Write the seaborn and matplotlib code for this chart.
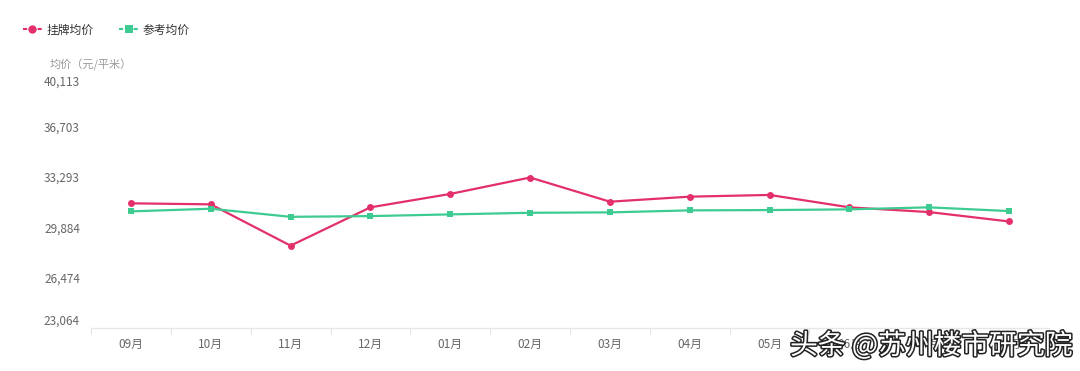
import pandas as pd
import numpy as np
import seaborn as sns
import matplotlib.pyplot as plt
import matplotlib.patheffects as pe
from matplotlib.lines import Line2D

months = ["09月", "10月", "11月", "12月", "01月", "02月", "03月", "04月", "05月", "06月", "07月", "08月"]
listing_price = [31499, 31430, 28635, 31227, 32134, 33245, 31609, 31950, 32066, 31227, 30906, 30272]
reference_price = [30954, 31132, 30586, 30634, 30750, 30859, 30886, 31022, 31043, 31090, 31227, 30975]
y_ticks = [23064, 26474, 29884, 33293, 36703, 40113]
series_names = ["挂牌均价", "参考均价"]

RED = "#e3306a"
GREEN = "#3dcb92"

df = pd.DataFrame({
    "month": months * 2,
    "price": listing_price + reference_price,
    "series": [series_names[0]] * len(months) + [series_names[1]] * len(months),
})

sns.set_theme(style="white")
plt.rcParams["font.family"] = ["Noto Sans CJK SC", "DejaVu Sans"]

fig = plt.figure(figsize=(10.8, 3.71), dpi=100)
ax = fig.add_axes([91 / 1080, 1 - 328 / 371, 958 / 1080, 252 / 371])

sns.lineplot(
    data=df, x="month", y="price", hue="series", style="series",
    palette=[RED, GREEN], markers=["o", "s"], dashes=False,
    markersize=5, markeredgewidth=0, linewidth=1.6, sort=False,
    legend=False, ax=ax,
)

ax.set_xlim(-0.5, len(months) - 0.5)
ax.set_ylim(y_ticks[0], y_ticks[-1])
ax.set_xlabel("")
ax.set_ylabel("")

# y axis: labels only, no line
ax.set_yticks(y_ticks)
ax.set_yticklabels([f"{v:,}" for v in y_ticks])
ax.tick_params(axis="y", length=0, pad=8, labelsize=8.5, labelcolor="#666666")
ylabels = ax.get_yticklabels()
ylabels[0].set_va("bottom")
ylabels[-1].set_va("top")

# x axis: labels at centers, small tick marks at the band boundaries
ax.set_xticks(range(len(months)))
ax.set_xticklabels(months)
ax.tick_params(axis="x", length=0, pad=7, labelsize=8.5, labelcolor="#666666")
ax.set_xticks(np.arange(-0.5, len(months), 1), minor=True)
ax.tick_params(axis="x", which="minor", bottom=True, length=4, width=0.8, color="#e3e3e3")

for side in ["top", "right", "left"]:
    ax.spines[side].set_visible(False)
ax.spines["bottom"].set_color("#e6e6e6")
ax.spines["bottom"].set_linewidth(1)
ax.grid(False)

fig.text(50 / 1080, 1 - 65 / 371, "均价（元/平米）", fontsize=8, color="#999999", va="center")

handles = [
    Line2D([], [], color=RED, linestyle=(0, (2, 1.5)), linewidth=1.5, marker="o", markersize=6, markeredgewidth=0),
    Line2D([], [], color=GREEN, linestyle=(0, (2, 1.5)), linewidth=1.5, marker="s", markersize=6, markeredgewidth=0),
]
leg = fig.legend(
    handles, series_names, loc="center left", bbox_to_anchor=(12 / 1080, 1 - 30 / 371),
    ncol=2, frameon=False, fontsize=8.5, handlelength=1.6, handletextpad=0.4,
    columnspacing=2.2, labelcolor="#333333",
)
for t in leg.get_texts():
    t.set_fontweight("medium")

# watermark drawn over the last x labels, as in the source picture
fig.text(790 / 1080, 1 - 346 / 371, "头条 @苏州楼市研究院", fontsize=20, color="white", va="center",
         path_effects=[pe.withStroke(linewidth=2.2, foreground="#222222")])

fig.savefig("out.png", dpi=100)
